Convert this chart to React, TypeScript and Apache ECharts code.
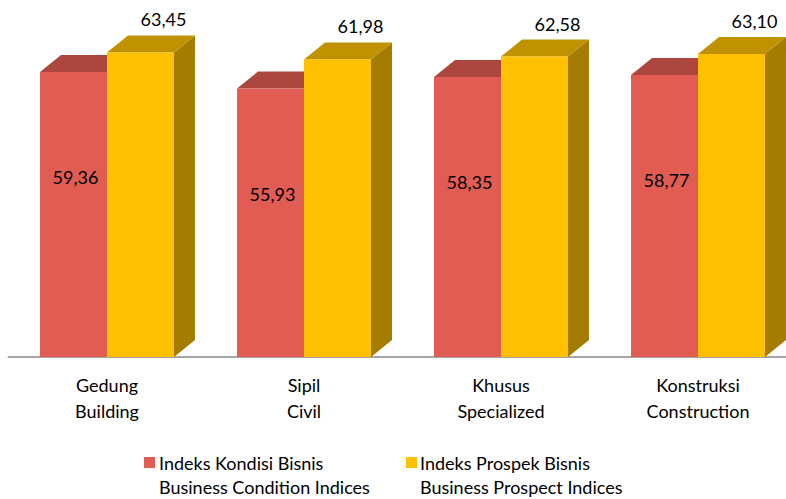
import React, { useEffect, useRef } from "react";
import * as echarts from "echarts";

const categories = [
  "Gedung\nBuilding",
  "Sipil\nCivil",
  "Khusus\nSpecialized",
  "Konstruksi\nConstruction",
];
const conditionValues = [59.36, 55.93, 58.35, 58.77];
const prospectValues = [63.45, 61.98, 62.58, 63.1];
const conditionName = "Indeks Kondisi Bisnis\nBusiness Condition Indices";
const prospectName = "Indeks Prospek Bisnis\nBusiness Prospect Indices";

const FONT = "Lato";
const FS = 18;
const DX = 21;
const DY = 17;

const fmt = (v: number) => v.toFixed(2).replace(".", ",");

type Colors = { front: string; top: string; side: string };

function makeRender(side: "left" | "right", colors: Colors, labelMode: "inside" | "above") {
  return (params: any, api: any) => {
    const idx = api.value(0);
    const val = api.value(1);
    const top = api.coord([idx, val]);
    const base = api.coord([idx, 0]);
    const band = api.size([1, 0])[0];
    const w = band * 0.34;
    const x0 = side === "left" ? top[0] - w : top[0];
    const x1 = x0 + w;
    const yT = top[1];
    const yB = base[1];
    const children: any[] = [
      {
        type: "polygon",
        shape: { points: [[x1, yT], [x1 + DX, yT - DY], [x1 + DX, yB - DY], [x1, yB]] },
        style: { fill: colors.side },
      },
      {
        type: "polygon",
        shape: { points: [[x0, yT], [x1, yT], [x1 + DX, yT - DY], [x0 + DX, yT - DY]] },
        style: { fill: colors.top },
      },
      {
        type: "rect",
        shape: { x: x0, y: yT, width: w, height: yB - yT },
        style: { fill: colors.front },
      },
    ];
    const label =
      labelMode === "inside"
        ? { x: (x0 + x1) / 2 + 2, y: yT + 105 }
        : { x: (x0 + x1) / 2 + 23, y: yT - DY - 16 };
    children.push({
      type: "text",
      x: label.x,
      y: label.y,
      style: {
        text: fmt(val),
        fill: "#000",
        font: `${FS}px ${FONT}`,
        align: "center",
        verticalAlign: "middle",
      },
    });
    return { type: "group", children };
  };
}

export default function App() {
  const ref = useRef<HTMLDivElement>(null);
  useEffect(() => {
    if (!ref.current) return;
    const chart = echarts.init(ref.current, undefined, { renderer: "svg" });
    chart.setOption({
      animation: false,
      backgroundColor: "#fff",
      textStyle: { fontFamily: FONT },
      grid: { left: 8.5, top: 21, width: 788, height: 336 },
      xAxis: {
        type: "category",
        data: categories,
        axisTick: { show: false },
        axisLine: { lineStyle: { color: "#A6A6A6", width: 2 } },
        axisLabel: { fontSize: FS, color: "#000", lineHeight: 26, margin: 15, fontFamily: FONT },
      },
      yAxis: { type: "value", min: 0, max: 70, show: false, splitLine: { show: false } },
      series: [
        {
          type: "custom",
          name: conditionName,
          renderItem: makeRender("left", { front: "#E15C52", top: "#AE4640", side: "#A8433D" }, "inside"),
          encode: { x: 0, y: 1 },
          data: conditionValues.map((v, i) => [i, v]),
        },
        {
          type: "custom",
          name: prospectName,
          renderItem: makeRender("right", { front: "#FFC000", top: "#C09100", side: "#A47C00" }, "above"),
          encode: { x: 0, y: 1 },
          data: prospectValues.map((v, i) => [i, v]),
        },
      ],
      graphic: [
        { type: "rect", left: 144, top: 457, shape: { width: 11, height: 11 }, style: { fill: "#E15C52" } },
        {
          type: "text",
          left: 159,
          top: 451,
          style: { text: conditionName, font: `${FS}px ${FONT}`, fill: "#000", lineHeight: 24 },
        },
        { type: "rect", left: 406, top: 457, shape: { width: 11, height: 11 }, style: { fill: "#FFC000" } },
        {
          type: "text",
          left: 420,
          top: 451,
          style: { text: prospectName, font: `${FS}px ${FONT}`, fill: "#000", lineHeight: 24 },
        },
      ],
    });
    return () => chart.dispose();
  }, []);
  return (
    <div style={{ position: "absolute", left: 0, top: 0, width: 786, height: 499, overflow: "hidden", background: "#fff" }}>
      <div ref={ref} style={{ width: 800, height: 499 }} />
    </div>
  );
}
